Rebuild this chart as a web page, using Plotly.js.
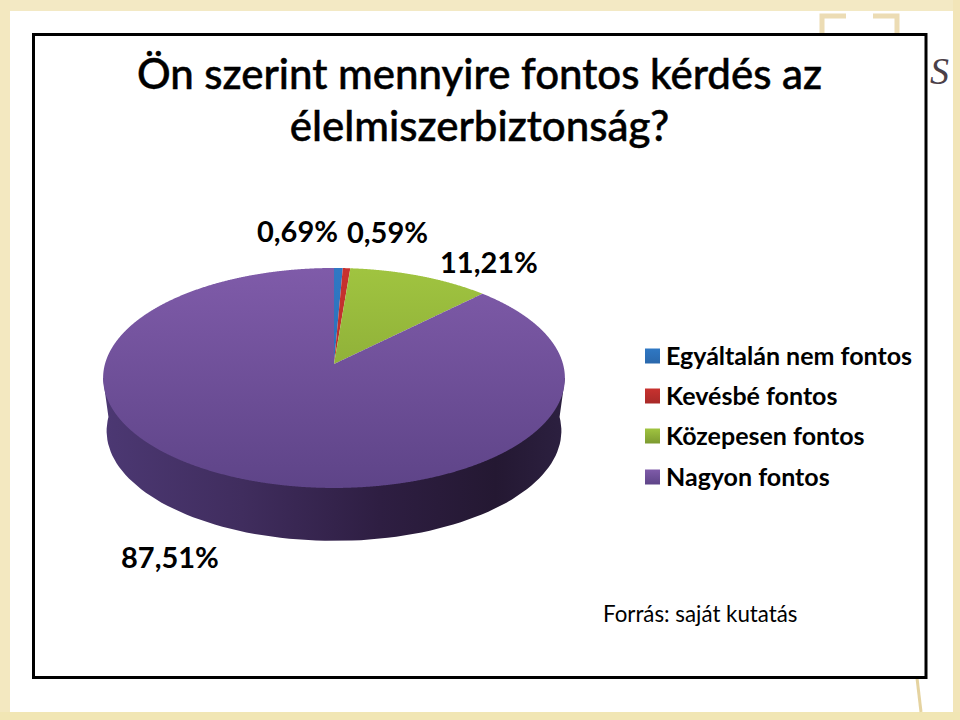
<!DOCTYPE html>
<html>
<head>
<meta charset="utf-8">
<script src="https://cdn.plot.ly/plotly-3.0.1.min.js"></script>
<style>html,body{margin:0;padding:0;background:#fff}#chart{width:960px;height:720px}</style>
</head>
<body>
<div id="chart"></div>
<script>
var categories = ["Egyáltalán nem fontos", "Kevésbé fontos", "Közepesen fontos", "Nagyon fontos"];
var shares = [0.69, 0.59, 11.21, 87.51];
var sliceTop = ["#2f78c4", "#c8322f", "#a0c440", "#7f5ba9"];
var sliceBottom = ["#2a68ac", "#a82a28", "#7c9a30", "#5e4488"];
var chartTitle = "Ön szerint mennyire fontos kérdés az<br>élelmiszerbiztonság?";
var source = "Forrás: saját kutatás";

// perspective of the disc (pixels)
var apexX = 334, apexY = 364, halfW = 229, halfH = 108.2, persp = 0.127, depth = 53;
function project(u, v, scale) {
  var d = 1 - persp * v;
  return [apexX + scale * halfW * u / d, apexY + halfH * v / d];
}
var sideX = [apexX + 231, apexX - 231], sideY = [378, 378];
for (var a = 0; a <= 180; a += 2) {
  var p = project(Math.cos(a * Math.PI / 180), Math.sin(a * Math.PI / 180), 0.985);
  sideX.splice(sideX.length - 1, 0, p[0]);
  sideY.splice(sideY.length - 1, 0, p[1] + depth);
}

function pct(v) { return v.toFixed(2).replace(".", ",") + "%"; }
var labelX = [297.5, 387.5, 488.5, 169.5];
var labelY = [230, 231, 261, 556];
var font = "Lato, Carlito, Calibri, sans-serif";

var annotations = shares.map(function (v, i) {
  return {text: "<b>" + pct(v) + "</b>", x: labelX[i], y: labelY[i], xref: "x", yref: "y",
    showarrow: false, xanchor: "center", yanchor: "middle", font: {family: font, size: 29, color: "#000"}};
});
annotations.push({text: source, x: 700.5, y: 613, xref: "x", yref: "y", showarrow: false,
  xanchor: "center", yanchor: "middle", font: {family: font, size: 22.3, color: "#000"}});
annotations.push({text: "<i>S</i>", x: 939, y: 71, xref: "x", yref: "y", showarrow: false,
  xanchor: "center", yanchor: "middle", font: {family: "Liberation Serif, serif", size: 38, color: "#4b4048"}});

function rect(x0, y0, x1, y1, col) {
  return {type: "rect", xref: "x", yref: "y", x0: x0, y0: y0, x1: x1, y1: y1,
    fillcolor: col, line: {width: 0}, layer: "below"};
}
function stroke(path, col, w) {
  return {type: "path", xref: "x", yref: "y", path: path, line: {color: col, width: w}, layer: "below"};
}
var shapes = [
  rect(0, 0, 960, 11, "#f3e9c4"),
  rect(0, 0, 10, 720, "#f3e8c0"),
  rect(953, 0, 960, 720, "#f2e5b8"),
  rect(0, 712, 960, 720, "#f1e6b4"),
  stroke("M846,16H822V33", "#ecdcb4", 5),
  stroke("M873,16H897V33", "#ecdcb4", 5),
  stroke("M917,678L921,712", "#e5d3a0", 3),
  {type: "rect", xref: "x", yref: "y", x0: 33.5, y0: 34.5, x1: 926, y1: 677.5,
    fillcolor: "#fff", line: {color: "#000", width: 3}, layer: "below"}
];

var traces = [
  {type: "scatter", mode: "lines", x: sideX, y: sideY, fill: "toself", line: {width: 0},
   fillgradient: {type: "horizontal", colorscale: [[0, "#4c3873"], [0.3, "#402d5e"], [0.6, "#2e1e42"], [0.85, "#241832"], [1, "#2c2040"]]},
   showlegend: false, hoverinfo: "skip"},
  {type: "pie", labels: categories, values: shares, sort: false, direction: "clockwise", rotation: 0,
   textinfo: "none", marker: {colors: sliceTop, line: {width: 0}}, domain: {x: [0.05, 0.65], y: [0.2, 0.9]},
   hoverinfo: "label+percent"}
];

var layout = {
  width: 960, height: 720, margin: {l: 0, r: 0, t: 0, b: 0},
  paper_bgcolor: "#fff", plot_bgcolor: "rgba(0,0,0,0)",
  xaxis: {range: [0, 960], visible: false, fixedrange: true},
  yaxis: {range: [720, 0], visible: false, fixedrange: true},
  title: {text: chartTitle, x: 0.4995, xanchor: "center", y: 0.876, yanchor: "bottom", yref: "container",
    font: {family: font, size: 42, color: "#000", weight: 500}, automargin: false},
  legend: {x: 626 / 960, xanchor: "left", y: 1 - 338 / 720, yanchor: "top", bgcolor: "rgba(0,0,0,0)",
    font: {family: font, size: 25, color: "#000", weight: "bold"}, itemclick: false, itemdoubleclick: false},
  annotations: annotations, shapes: shapes, showlegend: true
};

Plotly.newPlot("chart", traces, layout, {staticPlot: true, displayModeBar: false}).then(function (gd) {
  var NS = "http://www.w3.org/2000/svg";
  var svg = gd.querySelector(".main-svg");
  var defs = document.createElementNS(NS, "defs");
  svg.insertBefore(defs, svg.firstChild);
  function grad(id, a, b, bbox) {
    var g = document.createElementNS(NS, "linearGradient");
    g.setAttribute("id", id);
    g.setAttribute("x1", "0"); g.setAttribute("x2", "0");
    if (bbox) { g.setAttribute("y1", "0"); g.setAttribute("y2", "1"); }
    else { g.setAttribute("gradientUnits", "userSpaceOnUse"); g.setAttribute("y1", "-96"); g.setAttribute("y2", "124"); }
    [[0, a], [1, b]].forEach(function (s) {
      var st = document.createElementNS(NS, "stop");
      st.setAttribute("offset", s[0]); st.setAttribute("stop-color", s[1]);
      g.appendChild(st);
    });
    defs.appendChild(g);
  }
  categories.forEach(function (c, i) {
    grad("slice" + i, sliceTop[i], sliceBottom[i], false);
    grad("leg" + i, sliceTop[i], sliceBottom[i], true);
  });

  // reshape the library's slices into the tilted disc
  var cd0 = gd.calcdata[1][0];
  var R = cd0.r, cx = cd0.cx, cy = cd0.cy;
  gd.querySelectorAll(".pielayer .slice path.surface").forEach(function (path, i) {
    var len = path.getTotalLength(), n = Math.ceil(len), pts = [];
    for (var k = 0; k <= n; k++) {
      var q = path.getPointAtLength(len * k / n);
      var pr = project((q.x - cx) / R, (q.y - cy) / R, 1);
      pts.push((pr[0] - apexX).toFixed(2) + "," + (pr[1] - apexY).toFixed(2));
    }
    path.setAttribute("d", "M" + pts.join("L") + "Z");
    path.setAttribute("transform", "translate(" + apexX + "," + apexY + ")");
    path.style.fill = "url(#slice" + i + ")";
    path.style.strokeWidth = "0";
  });

  // title: tighter line spacing and a slightly heavier stroke
  var lines = gd.querySelectorAll(".gtitle tspan.line");
  if (lines.length > 1) {
    lines[1].setAttribute("y", parseFloat(lines[1].getAttribute("y")) - 3);
  }
  var ttl = gd.querySelector(".gtitle");
  if (ttl) { ttl.style.stroke = "#000"; ttl.style.strokeWidth = "0.5px"; }

  // legend rows and keys
  var box = gd.querySelector(".legend .scrollbox");
  if (box) box.removeAttribute("clip-path");
  var rowY = [355, 395, 435, 476];
  var legendTop = 338;
  gd.querySelectorAll(".legend .traces").forEach(function (row, i) {
    row.setAttribute("transform", "translate(0," + (rowY[i] - legendTop) + ")");
    var key = row.querySelector("path.legendpie");
    if (key) {
      key.setAttribute("d", "M7.5,7.5H-7.5V-7.5H7.5Z");
      key.setAttribute("transform", "translate(26.5,1)");
      key.style.fill = "url(#leg" + i + ")";
      key.style.strokeWidth = "0";
    }
  });
});
</script>
</body>
</html>
